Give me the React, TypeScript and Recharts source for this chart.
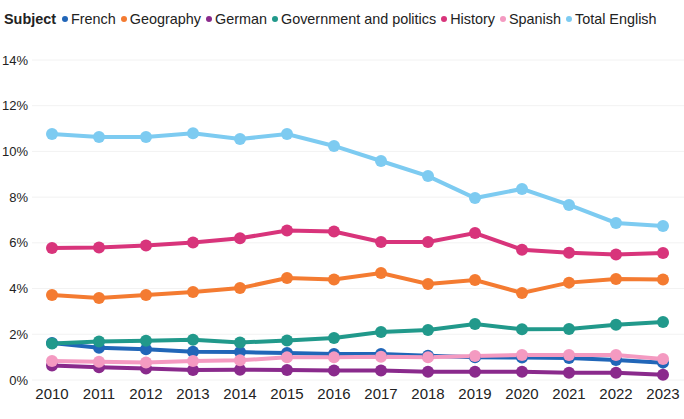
import React from 'react';
import { LineChart, Line, XAxis, YAxis, CartesianGrid, Legend } from 'recharts';

const years = [2010, 2011, 2012, 2013, 2014, 2015, 2016, 2017, 2018, 2019, 2020, 2021, 2022, 2023];

// share of entries, in %
const french = [1.62, 1.41, 1.35, 1.24, 1.22, 1.18, 1.14, 1.14, 1.06, 1.0, 0.98, 0.96, 0.88, 0.76];
const geography = [3.72, 3.59, 3.72, 3.85, 4.02, 4.46, 4.4, 4.68, 4.2, 4.37, 3.81, 4.26, 4.42, 4.4];
const german = [0.63, 0.56, 0.5, 0.44, 0.45, 0.44, 0.42, 0.42, 0.36, 0.36, 0.36, 0.32, 0.32, 0.23];
const government = [1.6, 1.68, 1.72, 1.76, 1.64, 1.73, 1.84, 2.1, 2.19, 2.45, 2.22, 2.23, 2.42, 2.54];
const history = [5.77, 5.8, 5.88, 6.02, 6.2, 6.54, 6.5, 6.04, 6.04, 6.43, 5.7, 5.57, 5.49, 5.56];
const spanish = [0.83, 0.8, 0.77, 0.83, 0.86, 0.99, 0.99, 1.02, 1.0, 1.05, 1.09, 1.09, 1.09, 0.92];
const totalEnglish = [10.76, 10.63, 10.63, 10.8, 10.54, 10.76, 10.24, 9.58, 8.92, 7.96, 8.36, 7.66, 6.87, 6.74];

const yTicks = [0, 2, 4, 6, 8, 10, 12, 14];

const SERIES = [
  { key: 'French', values: french, color: '#2166b8' },
  { key: 'Geography', values: geography, color: '#f47b31' },
  { key: 'German', values: german, color: '#8a2a8c' },
  { key: 'Government and politics', values: government, color: '#21998b' },
  { key: 'History', values: history, color: '#d8347b' },
  { key: 'Spanish', values: spanish, color: '#f49ac1' },
  { key: 'Total English', values: totalEnglish, color: '#7dcbf1' },
];

const data = years.map((year, i) => {
  const row: { [k: string]: number } = { year };
  SERIES.forEach(s => {
    row[s.key] = s.values[i];
  });
  return row;
});

const font = '"Liberation Sans", Arial, sans-serif';

const LegendContent = () => (
  <div style={{ height: 30, display: 'flex', alignItems: 'center', fontFamily: font, fontSize: 14.4, color: '#222', whiteSpace: 'nowrap' }}>
    <span style={{ fontWeight: 'bold', marginRight: 6 }}>Subject</span>
    {SERIES.map(s => (
      <span key={s.key} style={{ display: 'inline-flex', alignItems: 'center', marginRight: 5 }}>
        <span style={{ width: 6, height: 6, borderRadius: 3, background: s.color, marginRight: 3 }} />
        {s.key}
      </span>
    ))}
  </div>
);

const App: React.FC = () => {
  return (
    <div style={{ position: 'absolute', left: 0, top: 0, width: 684, height: 419, background: '#fff' }}>
      <LineChart width={684} height={419} data={data} margin={{ top: 30, right: 0, bottom: 9, left: 0 }}>
        <CartesianGrid vertical={false} stroke="#f2f2f2" />
        <XAxis
          dataKey="year"
          type="number"
          domain={[2010, 2023]}
          ticks={years}
          padding={{ left: 20, right: 21 }}
          axisLine={false}
          tickLine={false}
          tickSize={0}
          tickMargin={8}
          height={30}
          tick={{ fill: '#222', fontSize: 15, fontFamily: font }}
        />
        <YAxis
          domain={[0, 14]}
          ticks={yTicks}
          tickFormatter={(v) => `${v}%`}
          axisLine={false}
          tickLine={false}
          tickSize={0}
          tickMargin={4}
          width={32}
          tick={{ fill: '#222', fontSize: 13, fontFamily: font }}
        />
        <Legend verticalAlign="top" align="left" content={<LegendContent />} wrapperStyle={{ top: 4, left: 4 }} />
        {SERIES.map(s => (
          <Line
            key={s.key}
            dataKey={s.key}
            stroke={s.color}
            strokeWidth={4}
            dot={{ r: 6, fill: s.color, stroke: 'none' }}
            activeDot={false}
            isAnimationActive={false}
          />
        ))}
      </LineChart>
    </div>
  );
};

export default App;
